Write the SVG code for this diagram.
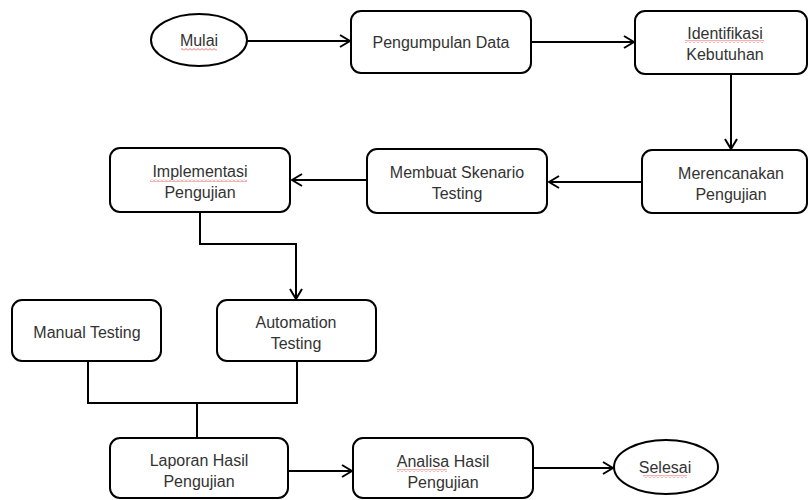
<svg xmlns="http://www.w3.org/2000/svg" width="809" height="500" viewBox="0 0 809 500">
<defs>
<style>
.box{fill:#fff;stroke:#000;stroke-width:2}
.t{font-family:"Liberation Sans",Arial,sans-serif;font-size:16px;fill:#333;text-anchor:middle}
.c{fill:none;stroke:#000;stroke-width:2}
.sq{fill:url(#squig)}
</style>
<marker id="ah" markerWidth="12" markerHeight="14" refX="11" refY="7" orient="auto" markerUnits="userSpaceOnUse">
<path d="M1,1 L11,7 L1,13" fill="none" stroke="#000" stroke-width="2"/>
</marker>
<pattern id="squig" width="4" height="3" patternUnits="userSpaceOnUse">
<path d="M0,2.5 L2,0.5 L4,2.5" fill="none" stroke="#e04040" stroke-width="0.8"/>
</pattern>
</defs>
<rect width="809" height="500" fill="#fff"/>
<g id="connectors">
<path class="c" d="M247,41 H350" marker-end="url(#ah)"/>
<path class="c" d="M531,42 H634" marker-end="url(#ah)"/>
<path class="c" d="M731,75 V149" marker-end="url(#ah)"/>
<path class="c" d="M642,182 H549" marker-end="url(#ah)"/>
<path class="c" d="M367,180 H292" marker-end="url(#ah)"/>
<path class="c" d="M200,212 V244 H296 V299" marker-end="url(#ah)"/>
<path class="c" d="M88,361 V403 H297 V361"/>
<path class="c" d="M197,403 V438"/>
<path class="c" d="M288,471 H352" marker-end="url(#ah)"/>
<path class="c" d="M533,468 H613" marker-end="url(#ah)"/>
</g>
<g id="mulai">
<ellipse class="box" cx="199" cy="40" rx="48" ry="26"/>
<text class="t" x="199" y="46">Mulai</text>
<rect class="sq" x="181" y="48" width="36" height="3"/>
</g>
<g id="pengumpulan">
<rect class="box" x="351" y="11" width="180" height="62" rx="10"/>
<text class="t" x="441" y="48">Pengumpulan Data</text>
</g>
<g id="identifikasi">
<rect class="box" x="635" y="11" width="172" height="63" rx="10"/>
<text class="t" x="725" y="39">Identifikasi</text>
<text class="t" x="725" y="60">Kebutuhan</text>
<rect class="sq" x="685" y="40" width="79" height="3"/>
</g>
<g id="merencanakan">
<rect class="box" x="642" y="150" width="165" height="63" rx="10"/>
<text class="t" x="731" y="179">Merencanakan</text>
<text class="t" x="731" y="200">Pengujian</text>
</g>
<g id="membuat">
<rect class="box" x="367" y="149" width="180" height="64" rx="10"/>
<text class="t" x="457" y="178">Membuat Skenario</text>
<text class="t" x="457" y="199">Testing</text>
</g>
<g id="implementasi">
<rect class="box" x="110" y="148" width="180" height="64" rx="10"/>
<text class="t" x="200" y="177">Implementasi</text>
<text class="t" x="200" y="198">Pengujian</text>
<rect class="sq" x="150" y="179" width="97" height="3"/>
</g>
<g id="manual">
<rect class="box" x="12" y="300" width="149" height="61" rx="10"/>
<text class="t" x="87" y="338">Manual Testing</text>
</g>
<g id="automation">
<rect class="box" x="217" y="300" width="159" height="61" rx="10"/>
<text class="t" x="296" y="328">Automation</text>
<text class="t" x="296" y="349">Testing</text>
</g>
<g id="laporan">
<rect class="box" x="110" y="438" width="178" height="60" rx="10"/>
<text class="t" x="199" y="466">Laporan Hasil</text>
<text class="t" x="199" y="487">Pengujian</text>
</g>
<g id="analisa">
<rect class="box" x="353" y="438" width="180" height="60" rx="10"/>
<text class="t" x="443" y="467">Analisa Hasil</text>
<text class="t" x="443" y="488">Pengujian</text>
<rect class="sq" x="397" y="469" width="50" height="3"/>
</g>
<g id="selesai">
<ellipse class="box" cx="666" cy="467" rx="52" ry="27"/>
<text class="t" x="665" y="473">Selesai</text>
<rect class="sq" x="643" y="475" width="44" height="3"/>
</g>
</svg>
